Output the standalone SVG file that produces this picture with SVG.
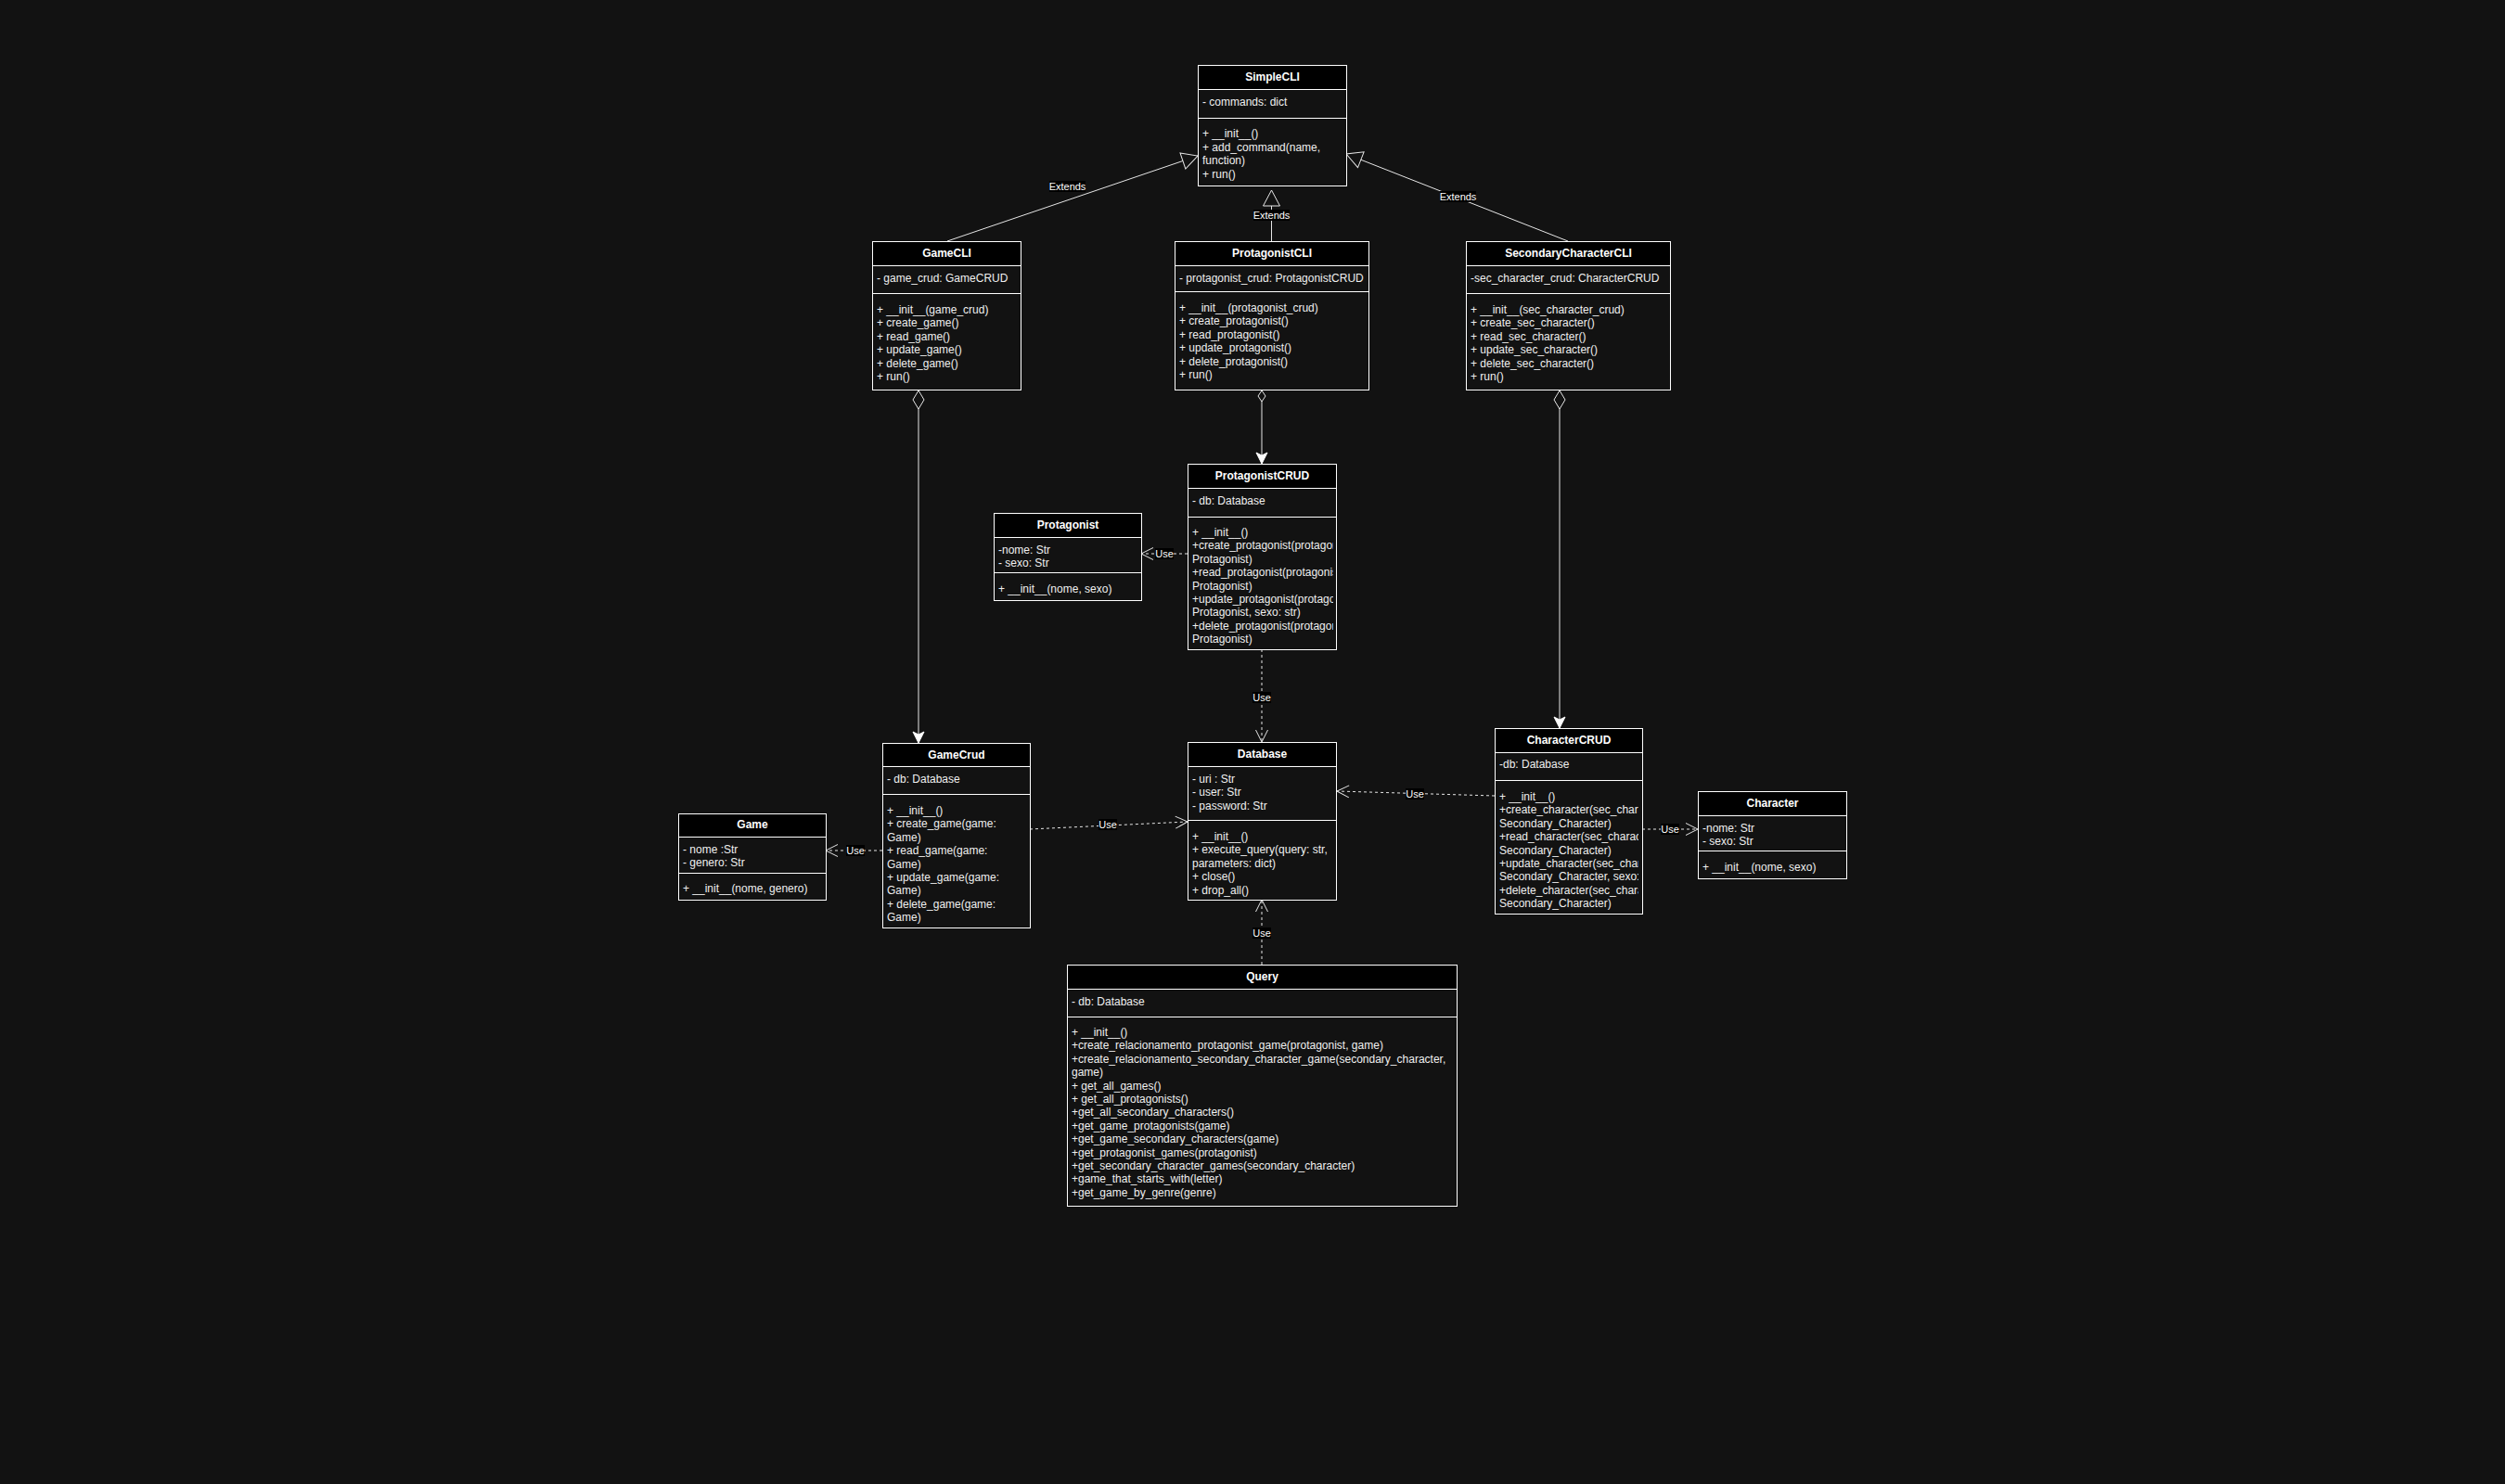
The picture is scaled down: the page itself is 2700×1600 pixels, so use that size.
<svg xmlns="http://www.w3.org/2000/svg" width="2700" height="1600" viewBox="0 0 2700 1600">
<style>
.bg{fill:#121212}
.box{fill:#121212;stroke:#ffffff;stroke-width:1}
.hdr{fill:#000000;stroke:#ffffff;stroke-width:1}
.sep{stroke:#ffffff;stroke-width:1}
.title{font-family:"Liberation Sans",Arial,Helvetica,sans-serif;font-size:12px;font-weight:bold;fill:#ffffff;text-anchor:middle}
.txt{font-family:"Liberation Sans",Arial,Helvetica,sans-serif;font-size:12px;fill:#f0f0f0}
.edge{fill:none;stroke:#e6e6e6;stroke-width:1}
.dash{stroke-dasharray:3 3}
.lblbg{fill:#000000}
.lbl{font-family:"Liberation Sans",Arial,Helvetica,sans-serif;font-size:11px;fill:#ffffff;text-anchor:middle}
</style>
<defs>
<marker id="ext" markerUnits="userSpaceOnUse" markerWidth="20" markerHeight="20" refX="17" refY="9" orient="auto" overflow="visible"><path d="M0,0 L17,9 L0,18 Z" fill="#121212" stroke="#e6e6e6" stroke-width="1"/></marker>
<marker id="open" markerUnits="userSpaceOnUse" markerWidth="14" markerHeight="14" refX="13" refY="6.5" orient="auto" overflow="visible"><path d="M0,0 L13,6.5 L0,13" fill="none" stroke="#e6e6e6" stroke-width="1"/></marker>
<marker id="block" markerUnits="userSpaceOnUse" markerWidth="13" markerHeight="13" refX="12" refY="6" orient="auto" overflow="visible"><path d="M0,0 L12,6 L0,12 L3,6 Z" fill="#ffffff" stroke="#ffffff" stroke-width="1"/></marker>
<marker id="dia" markerUnits="userSpaceOnUse" markerWidth="21" markerHeight="13" refX="0" refY="6" orient="auto" overflow="visible"><path d="M0,6 L10,0 L20,6 L10,12 Z" fill="#121212" stroke="#e6e6e6" stroke-width="1"/></marker>
<marker id="diaS" markerUnits="userSpaceOnUse" markerWidth="13" markerHeight="9" refX="0" refY="4" orient="auto" overflow="visible"><path d="M0,4 L6,0 L12,4 L6,8 Z" fill="#121212" stroke="#e6e6e6" stroke-width="1"/></marker>
<clipPath id="clipPC"><rect x="1281" y="557" width="156" height="142"/></clipPath>
<clipPath id="clipCC"><rect x="1612" y="841" width="154" height="143"/></clipPath>
</defs>
<rect class="bg" x="0" y="0" width="2700" height="1600"/>

<g id="connectors">
  <path class="edge" d="M1021,260 L1291,168" marker-end="url(#ext)"/>
  <path class="edge" d="M1370.5,260 L1370.5,205" marker-end="url(#ext)"/>
  <path class="edge" d="M1690,260 L1451,166" marker-end="url(#ext)"/>
  <path class="edge" d="M990,421 L990,801" marker-start="url(#dia)" marker-end="url(#block)"/>
  <path class="edge" d="M1360,421 L1360,500" marker-start="url(#diaS)" marker-end="url(#block)"/>
  <path class="edge" d="M1681,421 L1681,785" marker-start="url(#dia)" marker-end="url(#block)"/>
  <path class="edge dash" d="M1280,597 L1230,597" marker-end="url(#open)"/>
  <path class="edge dash" d="M951,917 L890,917" marker-end="url(#open)"/>
  <path class="edge dash" d="M1110,894 L1280,886" marker-end="url(#open)"/>
  <path class="edge dash" d="M1611,858 L1441,853" marker-end="url(#open)"/>
  <path class="edge dash" d="M1770,894 L1830,894" marker-end="url(#open)"/>
  <path class="edge dash" d="M1360,700 L1360,800" marker-end="url(#open)"/>
  <path class="edge dash" d="M1360,1040 L1360,970" marker-end="url(#open)"/>
  <g id="labels">
    <rect class="lblbg" x="1131" y="195" width="39" height="12"/><text class="lbl" x="1150.5" y="205">Extends</text>
    <rect class="lblbg" x="1351" y="226" width="39" height="12"/><text class="lbl" x="1370.5" y="236">Extends</text>
    <rect class="lblbg" x="1552" y="206" width="39" height="12"/><text class="lbl" x="1571.5" y="216">Extends</text>
    <rect class="lblbg" x="1245" y="591" width="20" height="12"/><text class="lbl" x="1255" y="601">Use</text>
    <rect class="lblbg" x="912" y="911" width="20" height="12"/><text class="lbl" x="922" y="921">Use</text>
    <rect class="lblbg" x="1184" y="883" width="20" height="12"/><text class="lbl" x="1194" y="893">Use</text>
    <rect class="lblbg" x="1515" y="850" width="20" height="12"/><text class="lbl" x="1525" y="860">Use</text>
    <rect class="lblbg" x="1790" y="888" width="20" height="12"/><text class="lbl" x="1800" y="898">Use</text>
    <rect class="lblbg" x="1350" y="746" width="20" height="12"/><text class="lbl" x="1360" y="756">Use</text>
    <rect class="lblbg" x="1350" y="1000" width="20" height="12"/><text class="lbl" x="1360" y="1010">Use</text>
  </g>
</g>

<g id="SimpleCLI">
  <rect class="box" x="1291.5" y="70.5" width="160" height="130"/>
  <rect class="hdr" x="1291.5" y="70.5" width="160" height="26"/>
  <line class="sep" x1="1291.5" y1="127.5" x2="1451.5" y2="127.5"/>
  <text class="title" x="1371.5" y="87">SimpleCLI</text>
  <text class="txt" x="1296" y="114">- commands: dict</text>
  <text class="txt" x="1296" y="148"><tspan x="1296">+ __init__()</tspan><tspan x="1296" dy="14.5">+ add_command(name,</tspan><tspan x="1296" dy="14.5">function)</tspan><tspan x="1296" dy="14.5">+ run()</tspan></text>
</g>

<g id="GameCLI">
  <rect class="box" x="940.5" y="260.5" width="160" height="160"/>
  <rect class="hdr" x="940.5" y="260.5" width="160" height="26"/>
  <line class="sep" x1="940.5" y1="316.5" x2="1100.5" y2="316.5"/>
  <text class="title" x="1020.5" y="277">GameCLI</text>
  <text class="txt" x="945" y="304">- game_crud: GameCRUD</text>
  <text class="txt" x="945" y="338"><tspan x="945">+ __init__(game_crud)</tspan><tspan x="945" dy="14.4">+ create_game()</tspan><tspan x="945" dy="14.4">+ read_game()</tspan><tspan x="945" dy="14.4">+ update_game()</tspan><tspan x="945" dy="14.4">+ delete_game()</tspan><tspan x="945" dy="14.4">+ run()</tspan></text>
</g>

<g id="ProtagonistCLI">
  <rect class="box" x="1266.5" y="260.5" width="209" height="160"/>
  <rect class="hdr" x="1266.5" y="260.5" width="209" height="26"/>
  <line class="sep" x1="1266.5" y1="314.5" x2="1475.5" y2="314.5"/>
  <text class="title" x="1371" y="277">ProtagonistCLI</text>
  <text class="txt" x="1271" y="304">- protagonist_crud: ProtagonistCRUD</text>
  <text class="txt" x="1271" y="336"><tspan x="1271">+ __init__(protagonist_crud)</tspan><tspan x="1271" dy="14.4">+ create_protagonist()</tspan><tspan x="1271" dy="14.4">+ read_protagonist()</tspan><tspan x="1271" dy="14.4">+ update_protagonist()</tspan><tspan x="1271" dy="14.4">+ delete_protagonist()</tspan><tspan x="1271" dy="14.4">+ run()</tspan></text>
</g>

<g id="SecondaryCharacterCLI">
  <rect class="box" x="1580.5" y="260.5" width="220" height="160"/>
  <rect class="hdr" x="1580.5" y="260.5" width="220" height="26"/>
  <line class="sep" x1="1580.5" y1="316.5" x2="1800.5" y2="316.5"/>
  <text class="title" x="1690.5" y="277">SecondaryCharacterCLI</text>
  <text class="txt" x="1585" y="304">-sec_character_crud: CharacterCRUD</text>
  <text class="txt" x="1585" y="338"><tspan x="1585">+ __init__(sec_character_crud)</tspan><tspan x="1585" dy="14.4">+ create_sec_character()</tspan><tspan x="1585" dy="14.4">+ read_sec_character()</tspan><tspan x="1585" dy="14.4">+ update_sec_character()</tspan><tspan x="1585" dy="14.4">+ delete_sec_character()</tspan><tspan x="1585" dy="14.4">+ run()</tspan></text>
</g>

<g id="ProtagonistCRUD">
  <rect class="box" x="1280.5" y="500.5" width="160" height="200"/>
  <rect class="hdr" x="1280.5" y="500.5" width="160" height="26"/>
  <line class="sep" x1="1280.5" y1="557.5" x2="1440.5" y2="557.5"/>
  <text class="title" x="1360.5" y="517">ProtagonistCRUD</text>
  <text class="txt" x="1285" y="544">- db: Database</text>
  <text class="txt" x="1285" y="578" clip-path="url(#clipPC)"><tspan x="1285">+ __init__()</tspan><tspan x="1285" dy="14.4">+create_protagonist(protagonist:</tspan><tspan x="1285" dy="14.4">Protagonist)</tspan><tspan x="1285" dy="14.4">+read_protagonist(protagonist:</tspan><tspan x="1285" dy="14.4">Protagonist)</tspan><tspan x="1285" dy="14.4">+update_protagonist(protagonist:</tspan><tspan x="1285" dy="14.4">Protagonist, sexo: str)</tspan><tspan x="1285" dy="14.4">+delete_protagonist(protagonist:</tspan><tspan x="1285" dy="14.4">Protagonist)</tspan></text>
</g>

<g id="Protagonist">
  <rect class="box" x="1071.5" y="553.5" width="159" height="94"/>
  <rect class="hdr" x="1071.5" y="553.5" width="159" height="26"/>
  <line class="sep" x1="1071.5" y1="617.5" x2="1230.5" y2="617.5"/>
  <text class="title" x="1151" y="570">Protagonist</text>
  <text class="txt" x="1076" y="597"><tspan x="1076">-nome: Str</tspan><tspan x="1076" dy="14.4">- sexo: Str</tspan></text>
  <text class="txt" x="1076" y="639">+ __init__(nome, sexo)</text>
</g>

<g id="Game">
  <rect class="box" x="731.5" y="877.5" width="159" height="93"/>
  <rect class="hdr" x="731.5" y="877.5" width="159" height="25"/>
  <line class="sep" x1="731.5" y1="941.5" x2="890.5" y2="941.5"/>
  <text class="title" x="811" y="893">Game</text>
  <text class="txt" x="736" y="920"><tspan x="736">- nome :Str</tspan><tspan x="736" dy="14.4">- genero: Str</tspan></text>
  <text class="txt" x="736" y="962">+ __init__(nome, genero)</text>
</g>

<g id="GameCrud">
  <rect class="box" x="951.5" y="801.5" width="159" height="199"/>
  <rect class="hdr" x="951.5" y="801.5" width="159" height="25"/>
  <line class="sep" x1="951.5" y1="856.5" x2="1110.5" y2="856.5"/>
  <text class="title" x="1031" y="818">GameCrud</text>
  <text class="txt" x="956" y="844">- db: Database</text>
  <text class="txt" x="956" y="878"><tspan x="956">+ __init__()</tspan><tspan x="956" dy="14.4">+ create_game(game:</tspan><tspan x="956" dy="14.4">Game)</tspan><tspan x="956" dy="14.4">+ read_game(game:</tspan><tspan x="956" dy="14.4">Game)</tspan><tspan x="956" dy="14.4">+ update_game(game:</tspan><tspan x="956" dy="14.4">Game)</tspan><tspan x="956" dy="14.4">+ delete_game(game:</tspan><tspan x="956" dy="14.4">Game)</tspan></text>
</g>

<g id="Database">
  <rect class="box" x="1280.5" y="800.5" width="160" height="170"/>
  <rect class="hdr" x="1280.5" y="800.5" width="160" height="26"/>
  <line class="sep" x1="1280.5" y1="884.5" x2="1440.5" y2="884.5"/>
  <text class="title" x="1360.5" y="817">Database</text>
  <text class="txt" x="1285" y="844"><tspan x="1285">- uri : Str</tspan><tspan x="1285" dy="14.4">- user: Str</tspan><tspan x="1285" dy="14.4">- password: Str</tspan></text>
  <text class="txt" x="1285" y="906"><tspan x="1285">+ __init__()</tspan><tspan x="1285" dy="14.4">+ execute_query(query: str,</tspan><tspan x="1285" dy="14.4">parameters: dict)</tspan><tspan x="1285" dy="14.4">+ close()</tspan><tspan x="1285" dy="14.4">+ drop_all()</tspan></text>
</g>

<g id="CharacterCRUD">
  <rect class="box" x="1611.5" y="785.5" width="159" height="200"/>
  <rect class="hdr" x="1611.5" y="785.5" width="159" height="26"/>
  <line class="sep" x1="1611.5" y1="841.5" x2="1770.5" y2="841.5"/>
  <text class="title" x="1691" y="802">CharacterCRUD</text>
  <text class="txt" x="1616" y="828">-db: Database</text>
  <text class="txt" x="1616" y="863" clip-path="url(#clipCC)"><tspan x="1616">+ __init__()</tspan><tspan x="1616" dy="14.4">+create_character(sec_character:</tspan><tspan x="1616" dy="14.4">Secondary_Character)</tspan><tspan x="1616" dy="14.4">+read_character(sec_character:</tspan><tspan x="1616" dy="14.4">Secondary_Character)</tspan><tspan x="1616" dy="14.4">+update_character(sec_character:</tspan><tspan x="1616" dy="14.4">Secondary_Character, sexo: str)</tspan><tspan x="1616" dy="14.4">+delete_character(sec_character:</tspan><tspan x="1616" dy="14.4">Secondary_Character)</tspan></text>
</g>

<g id="Character">
  <rect class="box" x="1830.5" y="853.5" width="160" height="94"/>
  <rect class="hdr" x="1830.5" y="853.5" width="160" height="26"/>
  <line class="sep" x1="1830.5" y1="917.5" x2="1990.5" y2="917.5"/>
  <text class="title" x="1910.5" y="870">Character</text>
  <text class="txt" x="1835" y="897"><tspan x="1835">-nome: Str</tspan><tspan x="1835" dy="14.4">- sexo: Str</tspan></text>
  <text class="txt" x="1835" y="939">+ __init__(nome, sexo)</text>
</g>

<g id="Query">
  <rect class="box" x="1150.5" y="1040.5" width="420" height="260"/>
  <rect class="hdr" x="1150.5" y="1040.5" width="420" height="26"/>
  <line class="sep" x1="1150.5" y1="1096.5" x2="1570.5" y2="1096.5"/>
  <text class="title" x="1360.5" y="1057">Query</text>
  <text class="txt" x="1155" y="1084">- db: Database</text>
  <text class="txt" x="1155" y="1117"><tspan x="1155">+ __init__()</tspan><tspan x="1155" dy="14.4">+create_relacionamento_protagonist_game(protagonist, game)</tspan><tspan x="1155" dy="14.4">+create_relacionamento_secondary_character_game(secondary_character,</tspan><tspan x="1155" dy="14.4">game)</tspan><tspan x="1155" dy="14.4">+ get_all_games()</tspan><tspan x="1155" dy="14.4">+ get_all_protagonists()</tspan><tspan x="1155" dy="14.4">+get_all_secondary_characters()</tspan><tspan x="1155" dy="14.4">+get_game_protagonists(game)</tspan><tspan x="1155" dy="14.4">+get_game_secondary_characters(game)</tspan><tspan x="1155" dy="14.4">+get_protagonist_games(protagonist)</tspan><tspan x="1155" dy="14.4">+get_secondary_character_games(secondary_character)</tspan><tspan x="1155" dy="14.4">+game_that_starts_with(letter)</tspan><tspan x="1155" dy="14.4">+get_game_by_genre(genre)</tspan></text>
</g>
</svg>
